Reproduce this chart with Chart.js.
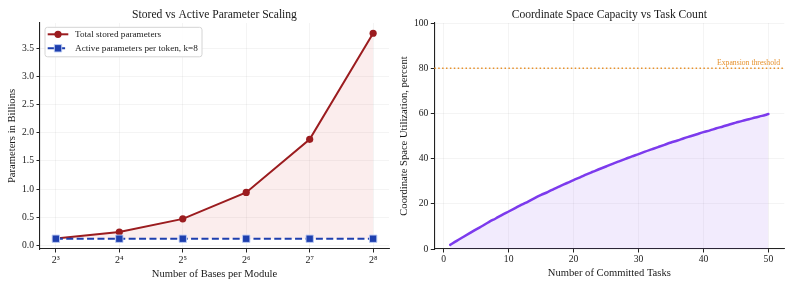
<!DOCTYPE html>
<html><head><meta charset="utf-8">
<script src="https://cdn.jsdelivr.net/npm/chart.js@4.4.1/dist/chart.umd.min.js"></script>
<style>
html,body{margin:0;padding:0;background:#fff;}
#wrap{position:relative;width:793px;height:289px;overflow:hidden;background:#fff;}
canvas{position:absolute;top:0;}
</style></head><body>
<div id="wrap">
<canvas id="c1" width="396" height="289" style="left:0px"></canvas>
<canvas id="c2" width="397" height="289" style="left:396px"></canvas>
</div>
<script>
// ---------- data ----------
const basesPerModule = [8, 16, 32, 64, 128, 256];
const totalStored = [0.12, 0.235, 0.47, 0.94, 1.885, 3.77];
const activePerToken = [0.117, 0.117, 0.117, 0.117, 0.117, 0.117];
const leftYTicks = [0, 0.5, 1.0, 1.5, 2.0, 2.5, 3.0, 3.5];

const committedTasks = [1,2,3,4,5,6,7,8,9,10,11,12,13,14,15,16,17,18,19,20,21,22,23,24,25,26,27,28,29,30,31,32,33,34,35,36,37,38,39,40,41,42,43,44,45,46,47,48,49,50];
const utilization = [1.8,3.6,5.3,7.0,8.7,10.3,12.0,13.5,15.1,16.6,18.1,19.6,21.0,22.5,23.9,25.2,26.6,27.9,29.2,30.5,31.7,33.0,34.2,35.4,36.5,37.7,38.8,39.9,41.0,42.0,43.1,44.1,45.1,46.1,47.1,48.0,49.0,49.9,50.8,51.7,52.5,53.4,54.2,55.1,55.9,56.7,57.4,58.2,58.9,59.7];
const rightXTicks = [0, 10, 20, 30, 40, 50];
const rightYTicks = [0, 20, 40, 60, 80, 100];
const expansionThreshold = 80;

// ---------- styling ----------
const FONT = '"Liberation Serif", "DejaVu Serif", serif';
const TXT = '#1a1a1a';
Chart.defaults.font.family = FONT;
Chart.defaults.color = TXT;

const SUP = {'0':'⁰','1':'¹','2':'²','3':'³','4':'⁴','5':'⁵','6':'⁶','7':'⁷','8':'⁸','9':'⁹'};
const sup = n => String(n).split('').map(c => SUP[c] || c).join('');

const gridOpts = {
  color: 'rgba(0,0,0,0.06)', lineWidth: 0.8, borderDash: [3, 2],
  tickColor: '#222', tickWidth: 1, tickLength: 3.5, tickBorderDash: []
};
const borderOpts = {display: true, color: '#222', width: 1.1};

const titlePlugin = {
  id: 'ttl',
  afterDraw(chart, args, opts) {
    const {ctx, chartArea} = chart;
    ctx.save();
    ctx.font = '11.6px ' + FONT;
    ctx.fillStyle = TXT;
    ctx.textAlign = 'center';
    ctx.textBaseline = 'alphabetic';
    ctx.fillText(opts.text, (chartArea.left + chartArea.right) / 2, chartArea.top - 5.5);
    ctx.restore();
  }
};

const legendPlugin = {
  id: 'lgd',
  afterDraw(chart) {
    const {ctx, chartArea} = chart;
    const x0 = chartArea.left + 5, y0 = chartArea.top + 4.3, w = 157, h = 29.5, r = 2.5;
    ctx.save();
    ctx.beginPath();
    ctx.moveTo(x0 + r, y0);
    ctx.lineTo(x0 + w - r, y0); ctx.arcTo(x0 + w, y0, x0 + w, y0 + r, r);
    ctx.lineTo(x0 + w, y0 + h - r); ctx.arcTo(x0 + w, y0 + h, x0 + w - r, y0 + h, r);
    ctx.lineTo(x0 + r, y0 + h); ctx.arcTo(x0, y0 + h, x0, y0 + h - r, r);
    ctx.lineTo(x0, y0 + r); ctx.arcTo(x0, y0, x0 + r, y0, r);
    ctx.closePath();
    ctx.fillStyle = 'rgba(255,255,255,0.85)';
    ctx.fill();
    ctx.strokeStyle = '#d4d4d4';
    ctx.lineWidth = 1;
    ctx.stroke();
    chart.data.datasets.forEach((ds, i) => {
      const cy = y0 + 7 + i * 14;
      ctx.beginPath();
      ctx.setLineDash(ds.borderDash || []);
      ctx.strokeStyle = ds.borderColor;
      ctx.lineWidth = ds.borderWidth;
      ctx.moveTo(x0 + 2.7, cy); ctx.lineTo(x0 + 23.3, cy);
      ctx.stroke();
      ctx.setLineDash([]);
      const cx = x0 + 13;
      ctx.fillStyle = ds.pointBackgroundColor;
      ctx.strokeStyle = ds.pointBorderColor;
      ctx.lineWidth = ds.pointBorderWidth;
      ctx.beginPath();
      if (ds.pointStyle === 'rect') {
        const s = Math.SQRT1_2 * ds.pointRadius;
        ctx.rect(cx - s, cy - s, 2 * s, 2 * s);
      } else {
        ctx.arc(cx, cy, ds.pointRadius, 0, Math.PI * 2);
      }
      ctx.fill();
      if (ds.pointBorderWidth > 0) ctx.stroke();
      ctx.fillStyle = TXT;
      ctx.font = '9.2px ' + FONT;
      ctx.textAlign = 'left';
      ctx.textBaseline = 'middle';
      ctx.fillText(ds.label, x0 + 30, cy + 0.5);
    });
    ctx.restore();
  }
};

const thresholdPlugin = {
  id: 'thr',
  afterDatasetsDraw(chart, args, opts) {
    const {ctx, chartArea, scales} = chart;
    const y = scales.y.getPixelForValue(opts.value);
    ctx.save();
    ctx.beginPath();
    ctx.setLineDash([1.5, 2.4]);
    ctx.strokeStyle = '#e6912c';
    ctx.lineWidth = 1.5;
    ctx.moveTo(chartArea.left, y); ctx.lineTo(chartArea.right, y);
    ctx.stroke();
    ctx.setLineDash([]);
    ctx.fillStyle = '#e6912c';
    ctx.font = '7.7px ' + FONT;
    ctx.textAlign = 'right';
    ctx.textBaseline = 'alphabetic';
    ctx.fillText(opts.text, chartArea.right - 4.3, y - 3.5);
    ctx.restore();
  }
};

// ---------- left chart ----------
const lx = basesPerModule.map(v => Math.log2(v));
const lxPad = 0.05 * (Math.max(...lx) - Math.min(...lx));
const lyLo = Math.min(...activePerToken), lyHi = Math.max(...totalStored);
const lyPad = 0.05 * (lyHi - lyLo);

new Chart(document.getElementById('c1'), {
  type: 'line',
  data: {
    datasets: [
      {
        label: 'Total stored parameters',
        data: basesPerModule.map((b, i) => ({x: b, y: totalStored[i]})),
        borderColor: '#9b1c1f', borderWidth: 2,
        pointStyle: 'circle', pointRadius: 3.6,
        pointBackgroundColor: '#9b1c1f', pointBorderColor: '#9b1c1f', pointBorderWidth: 0,
        fill: {target: 1}, backgroundColor: 'rgba(210,50,50,0.09)',
        tension: 0, order: 1
      },
      {
        label: 'Active parameters per token, k=8',
        data: basesPerModule.map((b, i) => ({x: b, y: activePerToken[i]})),
        borderColor: '#1e3fae', borderWidth: 2, borderDash: [7, 3.4],
        pointStyle: 'rect', pointRadius: 5.2,
        pointBackgroundColor: '#1e3fae', pointBorderColor: 'rgba(190,205,245,0.9)', pointBorderWidth: 1,
        fill: false, tension: 0, order: 0
      }
    ]
  },
  options: {
    responsive: false, animation: false, events: [],
    layout: {padding: {top: 23, right: 7, left: 0, bottom: 0}},
    plugins: {legend: {display: false}, tooltip: {enabled: false},
      ttl: {text: 'Stored vs Active Parameter Scaling'}},
    scales: {
      x: {
        type: 'logarithmic',
        min: Math.pow(2, Math.min(...lx) - lxPad), max: Math.pow(2, Math.max(...lx) + lxPad),
        afterBuildTicks: s => { s.ticks = basesPerModule.map(v => ({value: v})); },
        afterFit: s => { s.height = 40; },
        ticks: {callback: v => '2' + sup(Math.round(Math.log2(v))), font: {size: 10}, padding: 1.5, color: TXT, maxRotation: 0, autoSkip: false},
        grid: gridOpts, border: borderOpts,
        title: {display: true, text: 'Number of Bases per Module', font: {size: 10.6}, color: TXT, padding: {top: 0, bottom: 8.5}}
      },
      y: {
        type: 'linear', min: lyLo - lyPad, max: lyHi + lyPad,
        afterBuildTicks: s => { s.ticks = leftYTicks.map(v => ({value: v})); },
        afterFit: s => { s.width = 40; },
        ticks: {callback: v => Number(v).toFixed(1), font: {size: 9.6}, padding: 2.5, color: TXT},
        grid: gridOpts, border: borderOpts,
        title: {display: true, text: 'Parameters in Billions', font: {size: 10.6}, color: TXT, padding: {top: 5.8, bottom: 0}}
      }
    }
  },
  plugins: [titlePlugin, legendPlugin]
});

// ---------- right chart ----------
const rxLo = Math.min(...committedTasks), rxHi = Math.max(...committedTasks);
const rxPad = 0.05 * (rxHi - rxLo);

new Chart(document.getElementById('c2'), {
  type: 'line',
  data: {
    datasets: [{
      label: 'Utilization',
      data: committedTasks.map((t, i) => ({x: t, y: utilization[i]})),
      borderColor: '#7c3aed', borderWidth: 2.5, pointRadius: 0,
      fill: 'origin', backgroundColor: 'rgba(124,58,237,0.1)',
      cubicInterpolationMode: 'monotone', borderCapStyle: 'round'
    }]
  },
  options: {
    responsive: false, animation: false, events: [],
    layout: {padding: {top: 23, right: 8.7, left: 0, bottom: 0}},
    plugins: {legend: {display: false}, tooltip: {enabled: false},
      ttl: {text: 'Coordinate Space Capacity vs Task Count'},
      thr: {value: expansionThreshold, text: 'Expansion threshold'}},
    scales: {
      x: {
        type: 'linear', min: rxLo - rxPad, max: rxHi + rxPad,
        afterBuildTicks: s => { s.ticks = rightXTicks.map(v => ({value: v})); },
        afterFit: s => { s.height = 40; },
        ticks: {font: {size: 9.6}, padding: 1.5, color: TXT, maxRotation: 0, autoSkip: false},
        grid: gridOpts, border: borderOpts,
        title: {display: true, text: 'Number of Committed Tasks', font: {size: 10.6}, color: TXT, padding: {top: 0, bottom: 9.5}}
      },
      y: {
        type: 'linear', min: 0, max: 100,
        afterBuildTicks: s => { s.ticks = rightYTicks.map(v => ({value: v})); },
        afterFit: s => { s.width = 38.3; },
        ticks: {font: {size: 9.6}, padding: 2.5, color: TXT},
        grid: gridOpts, border: borderOpts,
        title: {display: true, text: 'Coordinate Space Utilization, percent', font: {size: 10.6}, color: TXT, padding: {top: 1.5, bottom: 0}}
      }
    }
  },
  plugins: [titlePlugin, thresholdPlugin]
});
</script>
</body></html>
